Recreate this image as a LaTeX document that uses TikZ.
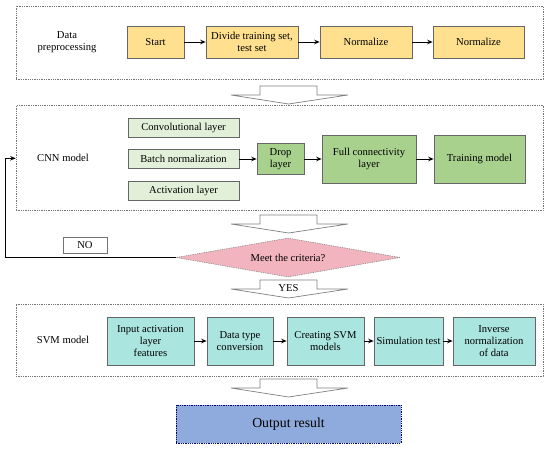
\documentclass[tikz,border=0pt]{standalone}
\usepackage{fontspec}
\setmainfont{Liberation Serif}
\usetikzlibrary{arrows.meta,shapes.geometric}
\definecolor{prepfill}{HTML}{FFE08F}
\definecolor{layerfill}{HTML}{E2EFD9}
\definecolor{cnnfill}{HTML}{A9D18E}
\definecolor{svmfill}{HTML}{AAE5DF}
\definecolor{critfill}{HTML}{F2B5C0}
\definecolor{outfill}{HTML}{8FAADC}
\begin{document}
\begin{tikzpicture}[x=1pt,y=-1pt,font=\fontsize{10.6}{12.3}\selectfont,
    panel/.style={draw=black!55,dash pattern=on 1.3pt off 1pt,line width=0.7pt,
      minimum width=527pt,minimum height=#1,inner sep=0pt},
    box/.style={draw=black!60,line width=0.6pt,align=center,inner sep=1pt},
    arr/.style={-{Stealth[length=5.5pt,width=4.5pt]},line width=1pt},
    hollow/.style={draw=black!50,fill=white,line width=0.7pt}]
  \useasboundingbox (0,0) rectangle (550,450);
  % three dashed panels
  \node[panel=73pt] (pprep) at (279.5,42.5) {};
  \node[panel=105pt] (pcnn) at (279.5,158.3) {};
  \node[panel=72pt] (psvm) at (279.5,340) {};
  \node[align=center] (lprep) at (67,42.5) {Data\\preprocessing};
  \node (lcnn) at (63,158.3) {CNN model};
  \node (lsvm) at (63,340) {SVM model};
  % data preprocessing row
  \foreach \name/\x/\w/\txt in {start/155.5/57/Start,
      divide/252/92/{Divide training set,\\test set},
      norma/366/92/Normalize,normb/478.5/91/Normalize}
    \node[box,fill=prepfill,minimum width=\w pt,minimum height=32pt] (\name) at (\x,42) {\txt};
  \foreach \a/\b in {start/divide,divide/norma,norma/normb}
    \draw[arr] (\a) -- (\b);
  % CNN model
  \foreach \name/\y/\txt in {conv/127.7/Convolutional layer,
      batch/159/Batch normalization,act/191/Activation layer}
    \node[box,fill=layerfill,minimum width=111pt,minimum height=18.5pt] (\name) at (183.5,\y) {\txt};
  \node[box,fill=cnnfill,minimum width=47pt,minimum height=31pt] (drop) at (280.5,159) {Drop\\layer};
  \node[box,fill=cnnfill,minimum width=94pt,minimum height=48pt] (full) at (369,159) {Full connectivity\\layer};
  \node[box,fill=cnnfill,minimum width=91pt,minimum height=48pt] (train) at (479.5,159) {Training model};
  \foreach \a/\b in {batch/drop,drop/full,full/train}
    \draw[arr] (\a) -- (\b);
  % hollow block arrows between the stages
  \foreach \t in {86,215,280,379}
    \draw[hollow] (260,\t) -- (317,\t) -- (317,\t+9) -- (348,\t+9) -- (288.5,\t+18)
      -- (231,\t+9) -- (260,\t+9) -- cycle;
  % decision
  \node[diamond,aspect=5.744,draw=black!45,fill=critfill,dash pattern=on 1.3pt off 1pt,line width=0.6pt,
    minimum width=224pt,minimum height=39pt,inner sep=0pt] (crit) at (288,257.5) {Meet the criteria?};
  \node[draw=black!55,fill=white,line width=0.7pt,minimum width=44pt,minimum height=16pt,inner sep=0pt]
    (no) at (85,245) {NO};
  \node (yes) at (288.5,288) {YES};
  \coordinate (back) at (5,257.5);
  \draw[arr] (crit.west) -- (back) |- (pcnn.west);
  % SVM model
  \foreach \name/\x/\w/\txt in {feat/150.5/87/{Input activation\\layer\\features},
      conv2/240/66/{Data type\\conversion},mksvm/325.5/77/{Creating SVM\\models},
      simu/408.5/69/Simulation test,inv/494/82/{Inverse\\normalization\\of data}}
    \node[box,fill=svmfill,minimum width=\w pt,minimum height=48pt] (\name) at (\x,341) {\txt};
  \foreach \a/\b in {feat/conv2,conv2/mksvm,mksvm/simu,simu/inv}
    \draw[arr] (\a) -- (\b);
  % result
  \node[draw=black!60!blue,fill=outfill,dash pattern=on 1.3pt off 1pt,line width=0.6pt,
    minimum width=225pt,minimum height=38pt,font=\fontsize{13.8}{16}\selectfont] (out) at (288.5,424) {Output result};
\end{tikzpicture}
\end{document}
